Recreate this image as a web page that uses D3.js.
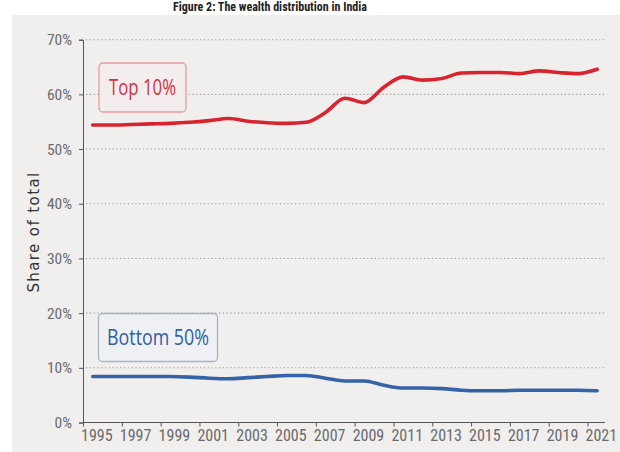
<!DOCTYPE html>
<html>
<head>
<meta charset="utf-8">
<script src="https://cdn.jsdelivr.net/npm/d3@7"></script>
<style>
  html, body { margin: 0; padding: 0; background: #ffffff; }
  svg { display: block; }
  .narrow { font-family: "Liberation Sans Narrow", "Arial Narrow", "Roboto Condensed", sans-serif; }
</style>
</head>
<body>
<svg id="chart" width="620" height="452"></svg>
<script>
// Wealth shares in India, 1995–2021 (share of total wealth, %)
const years = d3.range(1995, 2022);
const top10 = [54.4, 54.4, 54.5, 54.6, 54.7, 54.9, 55.2, 55.6, 55.1, 54.8, 54.7, 54.9, 56.7, 59.3, 58.5,
               61.3, 63.2, 62.6, 62.9, 63.9, 64.0, 64.0, 63.8, 64.3, 64.0, 63.8, 64.6];
const bottom50 = [8.4, 8.4, 8.4, 8.4, 8.4, 8.3, 8.1, 8.0, 8.2, 8.4, 8.6, 8.6, 8.1, 7.6, 7.6,
                  6.8, 6.3, 6.3, 6.2, 5.9, 5.8, 5.8, 5.9, 5.9, 5.9, 5.9, 5.8];
const yTicks = [0, 10, 20, 30, 40, 50, 60, 70];
const xTickYears = d3.range(1995, 2022, 2);
const seriesNames = ["Top 10%", "Bottom 50%"];
const titleText = "Figure 2: The wealth distribution in India";
const yLabel = "Share of total";

const svg = d3.select("#chart");

// grey panel
svg.append("rect").attr("x", 12).attr("y", 15).attr("width", 608).attr("height", 437).attr("fill", "#f0efee");

// title (top strip)
svg.append("text").attr("class", "narrow")
  .attr("x", 270).attr("y", 11).attr("text-anchor", "middle")
  .attr("font-size", 12).attr("font-weight", "bold").attr("fill", "#222")
  .text(titleText);

const x = d3.scaleLinear().domain([1995, 2021]).range([83, 587.5]);
const y = d3.scaleLinear().domain([0, 70]).range([422.5, 39.7]);
const plotRight = 605;

// dotted gridlines
svg.append("g").selectAll("line").data(yTicks.filter(d => d > 0)).join("line")
  .attr("x1", 86).attr("x2", plotRight)
  .attr("y1", d => y(d)).attr("y2", d => y(d))
  .attr("stroke", "#9a9a9a").attr("stroke-width", 1.1)
  .attr("stroke-dasharray", "1.2,2.6");

// y axis
const yAxis = svg.append("g").attr("transform", `translate(83,0)`)
  .call(d3.axisLeft(y).tickValues(yTicks).tickFormat(d => d + "%").tickSize(4).tickPadding(7));
yAxis.select(".domain").attr("stroke", "#555");
yAxis.selectAll(".tick line").attr("stroke", "#555");
yAxis.selectAll(".tick text").attr("class", "narrow").attr("font-size", 15.5).attr("fill", "#6a6a6a");

// x axis
const xAxis = svg.append("g").attr("transform", `translate(0,${y(0)})`)
  .call(d3.axisBottom(x).tickValues(xTickYears).tickFormat(d3.format("d")).tickSize(4).tickSizeOuter(0).tickPadding(3));
xAxis.select(".domain").attr("d", `M83,0H${plotRight}`).attr("stroke", "#555");
xAxis.selectAll(".tick line").attr("stroke", "#555");
xAxis.selectAll(".tick text").attr("class", "narrow").attr("font-size", 16).attr("fill", "#6a6a6a")
  .attr("text-anchor", "start").attr("dx", -2.5);

// y axis title
svg.append("text")
  .attr("transform", "translate(38.5,232) rotate(-90)")
  .attr("text-anchor", "middle")
  .attr("font-family", "'DejaVu Sans', sans-serif")
  .attr("font-size", 15).attr("letter-spacing", 1.4).attr("fill", "#333")
  .text(yLabel);

// lines: annual values centred within each year
const line = d3.line().x((d, i) => x(years[i] + 0.5)).y(d => y(d)).curve(d3.curveMonotoneX);
svg.append("path").datum(top10).attr("d", line)
  .attr("fill", "none").attr("stroke", "#d8242e").attr("stroke-width", 3.6).attr("stroke-linecap", "round");
svg.append("path").datum(bottom50).attr("d", line)
  .attr("fill", "none").attr("stroke", "#3563a8").attr("stroke-width", 3.6).attr("stroke-linecap", "round");

// label boxes
function labelBox(text, bx, by, bw, bh, stroke, fill, color, targetW) {
  const g = svg.append("g");
  g.append("rect").attr("x", bx).attr("y", by).attr("width", bw).attr("height", bh)
    .attr("rx", 4).attr("fill", fill).attr("stroke", stroke).attr("stroke-width", 1.3);
  const t = g.append("text").attr("font-family", "'Open Sans', sans-serif")
    .attr("font-size", 21).attr("fill", color).attr("text-anchor", "middle")
    .attr("x", 0).attr("y", 0).text(text);
  const w = t.node().getComputedTextLength();
  const s = targetW / w;
  t.attr("transform", `translate(${bx + bw / 2},${by + bh / 2 + 7.5}) scale(${s},1)`);
}
labelBox(seriesNames[0], 99, 63, 87, 49, "#e59aa2", "#f4eded", "#d53040", 67);
labelBox(seriesNames[1], 98.5, 313.5, 119, 48, "#a9b3c4", "#eef0f3", "#2f609f", 102);
</script>
</body>
</html>
